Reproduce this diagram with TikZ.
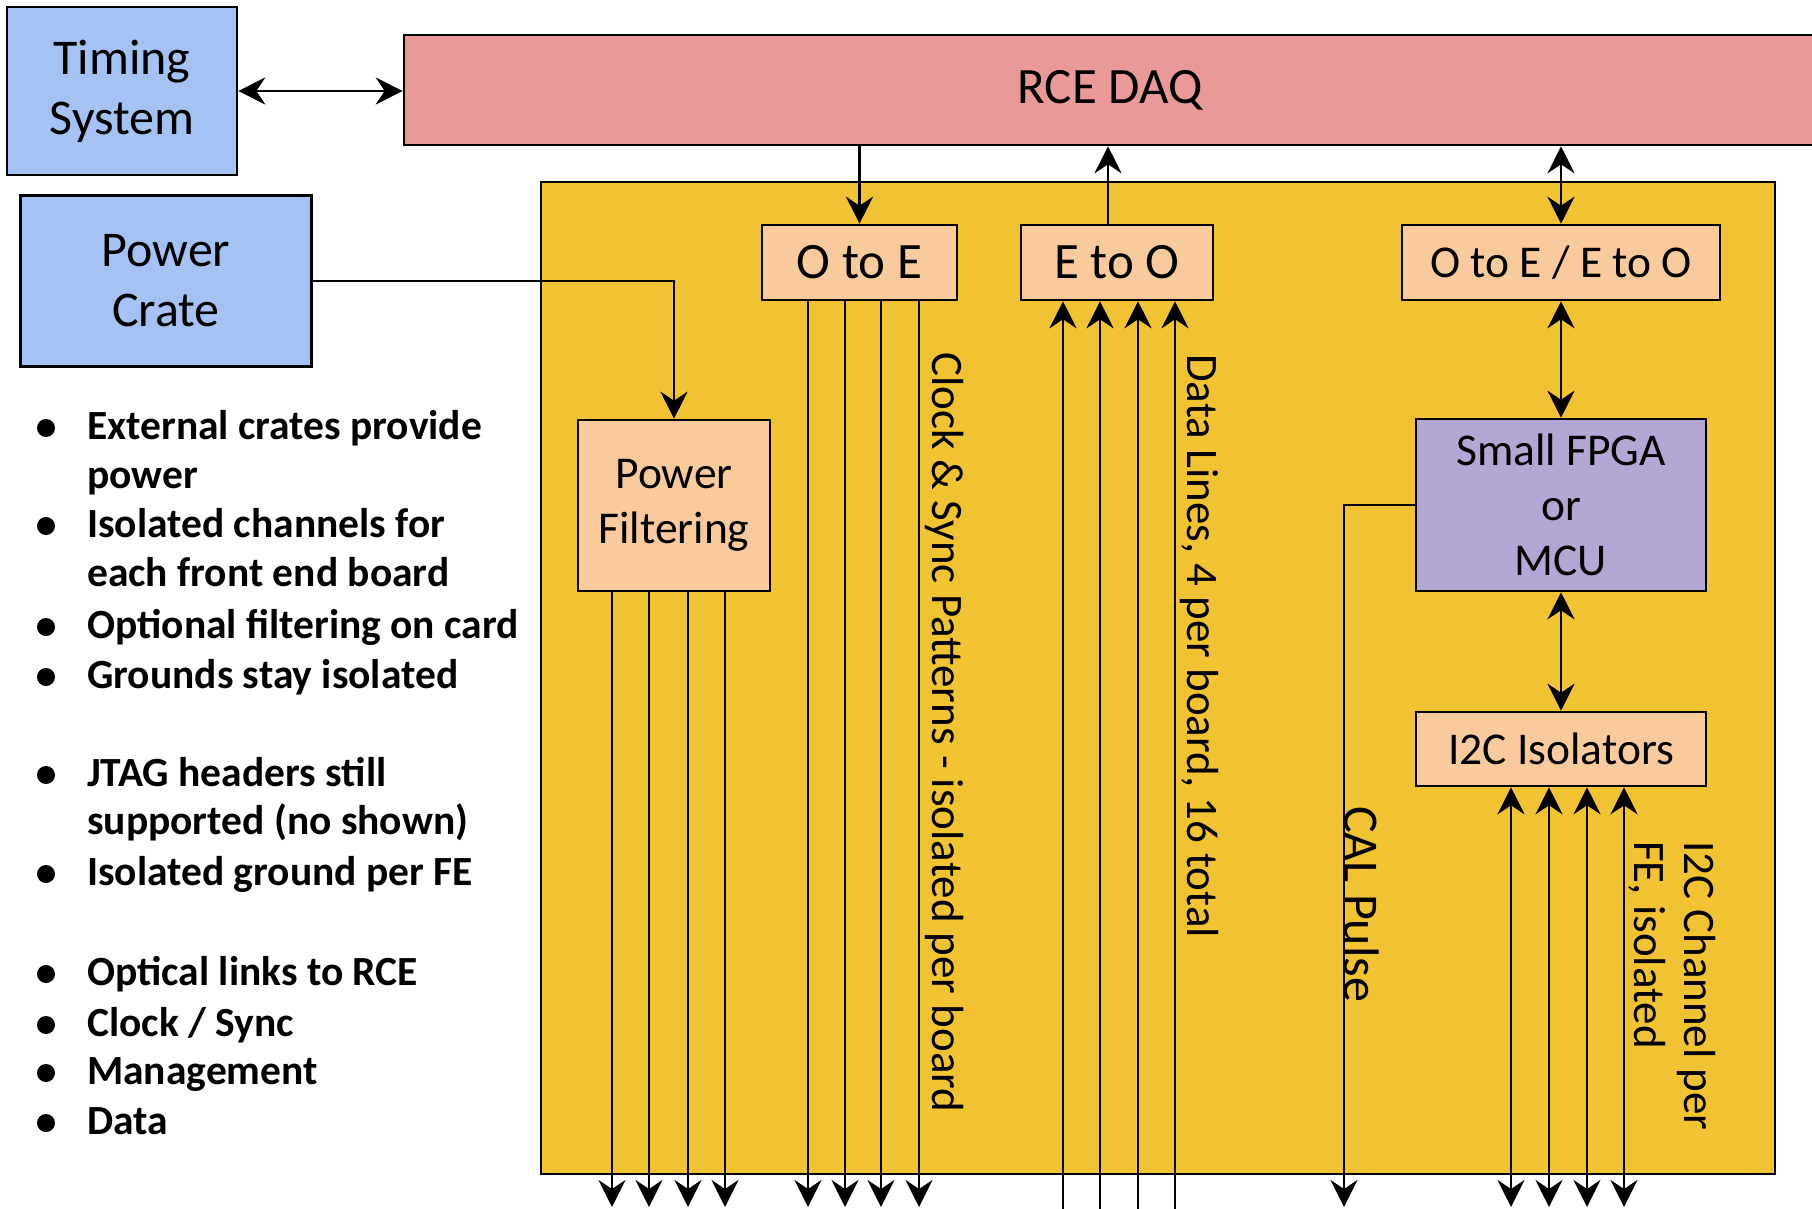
\documentclass[tikz,border=0pt]{standalone}
\usepackage{fontspec}
\setmainfont{Carlito}
\usetikzlibrary{arrows.meta}
\definecolor{blueC}{RGB}{164,194,244}
\definecolor{pinkC}{RGB}{234,153,153}
\definecolor{yellowC}{RGB}{241,194,50}
\definecolor{peachC}{RGB}{249,203,156}
\definecolor{purpleC}{RGB}{180,167,214}
\newcommand\myBigFont{\fontsize{50}{60}\selectfont}
\newcommand\myRceFont{\fontsize{51}{60}\selectfont}
\newcommand\myMidFont{\fontsize{45.5}{55}\selectfont}
\newcommand\myLabFont{\fontsize{45}{50}\selectfont}
\newcommand\myCalFont{\fontsize{50}{50}\selectfont}
\newcommand\myBulFont{\fontsize{41.5}{49}\selectfont\bfseries}
\begin{document}
\begin{tikzpicture}[x=1pt,y=-1pt,
  >={Stealth[length=27pt,width=27pt,inset=9pt]},
  box/.style={draw=black,line width=2.6pt,inner sep=0pt,align=center},
  conn/.style={line width=2.4pt},
  lab/.style={inner sep=0pt,font=\myLabFont,rotate=-90,anchor=west},
  bul/.style={inner sep=0pt,font=\myBulFont,anchor=base west},
  dot/.style={fill=black,draw=none}]
\fill[white] (0,0) rectangle (1812,1209);
\useasboundingbox (0,0) rectangle (1812,1209);

% outer boxes
\node[box,fill=blueC,minimum width=230pt,minimum height=168pt,font=\myBigFont] (tim) at (122,91) {Timing\\System};
\node[box,fill=blueC,minimum width=291pt,minimum height=171pt,font=\myBigFont] (pc) at (166,281) {Power\\Crate};
\node[box,fill=pinkC,minimum width=1412pt,minimum height=110pt,font=\myRceFont] (rce) at (1110,90) {\raisebox{-3pt}{RCE DAQ}};

% board
\node[box,fill=yellowC,minimum width=1234pt,minimum height=992pt] (board) at (1158,678) {};

% inner boxes
\node[box,fill=peachC,minimum width=195pt,minimum height=75pt,font=\myRceFont] (ote) at (859.5,262.5) {O to E};
\node[box,fill=peachC,minimum width=192pt,minimum height=75pt,font=\myRceFont] (eto) at (1117,262.5) {E to O};
\node[box,fill=peachC,minimum width=318pt,minimum height=75pt,font=\myMidFont] (oe) at (1561,262.5) {O to E / E to O};
\node[box,fill=peachC,minimum width=192pt,minimum height=171pt,font=\myMidFont] (pf) at (674,505.5) {Power\\Filtering};
\node[box,fill=purpleC,minimum width=290pt,minimum height=172pt,font=\myMidFont] (fpga) at (1561,505) {Small FPGA\\or\\MCU};
\node[box,fill=peachC,minimum width=290pt,minimum height=74pt,font=\myMidFont] (i2c) at (1561,749) {I2C Isolators};

% connectors
\draw[conn,<->] (tim.east) -- (tim.east -| rce.west);
\draw[conn,->] (pc.east) -| (pf.north);
\draw[conn,->] (rce.south -| ote.north) -- (ote.north);
\draw[conn,->] ([xshift=-9pt]eto.north) -- ([xshift=-9pt]eto.north |- rce.south);
\draw[conn,<->] (rce.south -| oe.north) -- (oe.north);
\draw[conn,<->] (oe.south) -- (fpga.north);
\draw[conn,<->] (fpga.south) -- (i2c.north);
\coordinate (calb) at (1344,1207);
\draw[conn,->] (fpga.west) -| (calb);

\foreach \x [count=\i] in {612,649,688,725} {
  \coordinate (pfo\i) at (\x,1207);
  \draw[conn,->] (pfo\i |- pf.south) -- (pfo\i);
}
\foreach \x [count=\i] in {808,845,881,919} {
  \coordinate (oto\i) at (\x,1207);
  \draw[conn,->] (oto\i |- ote.south) -- (oto\i);
}
\foreach \x [count=\i] in {1063,1100,1138,1175} {
  \coordinate (eti\i) at (\x,1215);
  \draw[conn,->] (eti\i) -- (eti\i |- eto.south);
}
\foreach \x [count=\i] in {1511,1549,1587,1624} {
  \coordinate (i2o\i) at (\x,1207);
  \draw[conn,<->] (i2o\i |- i2c.south) -- (i2o\i);
}

% rotated labels
\node[lab] (lclk) at (944,352) {Clock \& Sync Patterns - isolated per board};
\node[lab] (ldat) at (1199,354) {Data Lines, 4 per board, 16 total};
\node[lab,font=\myCalFont] (lcal) at (1362,806) {CAL Pulse};
\node[lab,align=left] (li2c) at (1672,841) {I2C Channel per\\FE, isolated};

% bullets
\node[bul] (bt1) at (87,439) {External crates provide};
\node[bul] (bt2) at (87,488) {power};
\node[bul] (bt3) at (87,537) {Isolated channels for};
\node[bul] (bt4) at (87,586) {each front end board};
\node[bul] (bt5) at (87,638) {Optional filtering on card};
\node[bul] (bt6) at (87,688) {Grounds stay isolated};
\node[bul] (bt7) at (87,786) {JTAG headers still};
\node[bul] (bt8) at (87,834) {supported (no shown)};
\node[bul] (bt9) at (87,885) {Isolated ground per FE};
\node[bul] (bt10) at (87,985) {Optical links to RCE};
\node[bul] (bt11) at (87,1036) {Clock / Sync};
\node[bul] (bt12) at (87,1084) {Management};
\node[bul] (bt13) at (87,1134) {Data};
\foreach \y in {439,537,638,688,786,885,985,1036,1084,1134}
  \fill[dot] (46,\y-11) circle[radius=9pt];
\end{tikzpicture}
\end{document}
